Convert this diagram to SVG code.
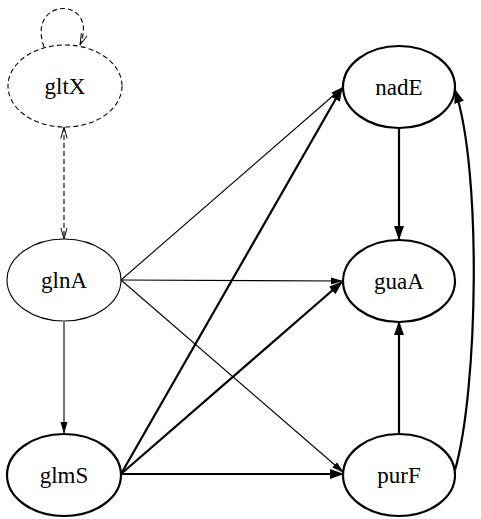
<svg xmlns="http://www.w3.org/2000/svg" width="481" height="519" viewBox="0 0 481 519">
  <style>
    .node { fill: #fff; stroke: #000; }
    .thin { stroke-width: 1.1; }
    .bold { stroke-width: 2.2; }
    .dash { stroke-width: 1.1; stroke-dasharray: 5 3; }
    .label { font-family: "Liberation Serif", "Times New Roman", serif; font-size: 23px; text-anchor: middle; dominant-baseline: central; fill: #000; }
    .edge { fill: none; stroke: #000; }
  </style>
  <defs>
    <marker id="arrow-thin" markerUnits="userSpaceOnUse" viewBox="0 0 12 8" refX="11" refY="4" markerWidth="12" markerHeight="8" orient="auto">
      <path d="M0,0.5 L12,4 L0,7.5 Z" fill="#000"/>
    </marker>
    <marker id="arrow-bold" markerUnits="userSpaceOnUse" viewBox="0 0 14 10" refX="13" refY="5" markerWidth="14" markerHeight="10" orient="auto">
      <path d="M0,0 L14,5 L0,10 Z" fill="#000"/>
    </marker>
    <marker id="vee-end" markerUnits="userSpaceOnUse" viewBox="0 0 12 8" refX="11.5" refY="4" markerWidth="12" markerHeight="8" orient="auto">
      <path d="M0,0.8 L11.5,4 L0,7.2" fill="none" stroke="#000" stroke-width="1"/>
    </marker>
    <marker id="vee-start" markerUnits="userSpaceOnUse" viewBox="0 0 12 8" refX="0.5" refY="4" markerWidth="12" markerHeight="8" orient="auto">
      <path d="M12,0.8 L0.5,4 L12,7.2" fill="none" stroke="#000" stroke-width="1"/>
    </marker>
  </defs>

  <g id="edges">
    <!-- gltX self-loop -->
    <path class="edge dash" d="M44,47 C26,-4 100,-4 80,45" marker-end="url(#vee-end)"/>
    <!-- gltX <-> glnA -->
    <line class="edge dash" x1="64" y1="127" x2="64" y2="239" marker-start="url(#vee-start)" marker-end="url(#vee-end)"/>
    <!-- glnA out-edges -->
    <line class="edge thin" x1="64" y1="322" x2="64" y2="433" marker-end="url(#arrow-thin)"/>
    <line class="edge thin" x1="121" y1="280" x2="342" y2="88" marker-end="url(#arrow-thin)"/>
    <line class="edge thin" x1="121" y1="280" x2="342" y2="281" marker-end="url(#arrow-thin)"/>
    <line class="edge thin" x1="121" y1="280" x2="343" y2="472" marker-end="url(#arrow-thin)"/>
    <!-- glmS out-edges -->
    <line class="edge bold" x1="121" y1="474" x2="342" y2="88" marker-end="url(#arrow-bold)"/>
    <line class="edge bold" x1="121" y1="474" x2="342" y2="282" marker-end="url(#arrow-bold)"/>
    <line class="edge bold" x1="121" y1="474" x2="343" y2="474" marker-end="url(#arrow-bold)"/>
    <!-- nadE -> guaA -->
    <line class="edge bold" x1="399" y1="128" x2="399" y2="239" marker-end="url(#arrow-bold)"/>
    <!-- purF -> guaA -->
    <line class="edge bold" x1="399" y1="434" x2="399" y2="322" marker-end="url(#arrow-bold)"/>
    <!-- purF -> nadE -->
    <path class="edge bold" d="M455,470 C478,390 482,170 455,90" marker-end="url(#arrow-bold)"/>
  </g>

  <g id="gltX">
    <ellipse class="node dash" cx="65" cy="86" rx="57" ry="41"/>
    <text class="label" x="65" y="86">gltX</text>
  </g>
  <g id="glnA">
    <ellipse class="node thin" cx="64" cy="280" rx="57" ry="41"/>
    <text class="label" x="64" y="280">glnA</text>
  </g>
  <g id="glmS">
    <ellipse class="node bold" cx="64" cy="475" rx="57" ry="41"/>
    <text class="label" x="64" y="475">glmS</text>
  </g>
  <g id="nadE">
    <ellipse class="node bold" cx="399" cy="87" rx="56" ry="41"/>
    <text class="label" x="399" y="87">nadE</text>
  </g>
  <g id="guaA">
    <ellipse class="node bold" cx="399" cy="281" rx="56" ry="41"/>
    <text class="label" x="399" y="281">guaA</text>
  </g>
  <g id="purF">
    <ellipse class="node bold" cx="399" cy="475" rx="56" ry="41"/>
    <text class="label" x="399" y="475">purF</text>
  </g>
</svg>
